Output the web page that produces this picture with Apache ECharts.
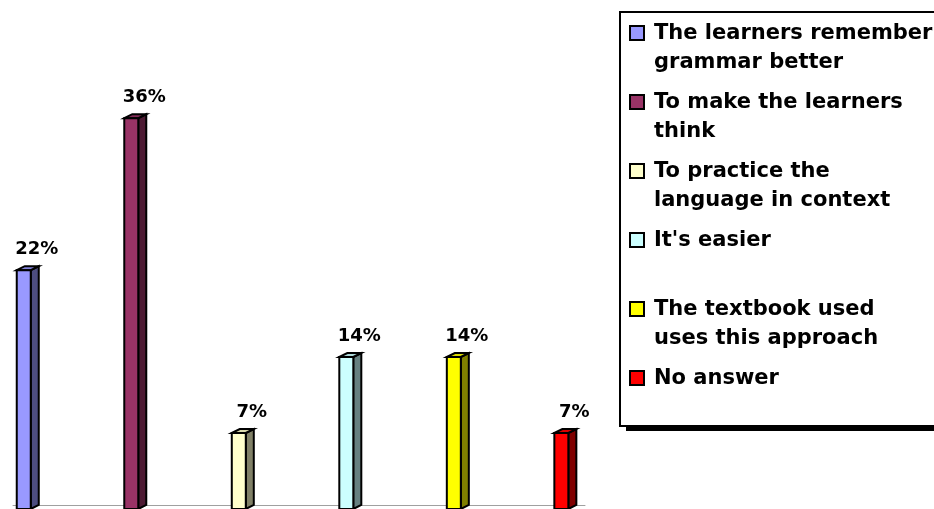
<!DOCTYPE html>
<html>
<head>
<meta charset="utf-8">
<script src="https://cdn.jsdelivr.net/npm/echarts@6/dist/echarts.min.js"></script>
<style>
html,body{margin:0;padding:0;background:#fff;}
#chart{width:934px;height:509px;}
</style>
</head>
<body>
<div id="chart"></div>
<script>
// ---- data ----
const categories = [
  "The learners remember grammar better",
  "To make the learners think",
  "To practice the language in context",
  "It's easier",
  "The textbook used uses this approach",
  "No answer"
];
const legendLines = [
  "The learners remember\ngrammar better",
  "To make the learners\nthink",
  "To practice the\nlanguage in context",
  "It's easier\n ",
  "The textbook used\nuses this approach",
  "No answer\n "
];
const values = [22, 36, 7, 14, 14, 7];
const frontColors = ['#9999FF', '#993366', '#FFFFCC', '#CCFFFF', '#FFFF00', '#FF0000'];
const sideColors  = ['#4D4D80', '#4D1A33', '#808066', '#668080', '#808000', '#800000'];
const topColors   = ['#8282D9', '#822B57', '#D9D9AD', '#ADD9D9', '#D9D900', '#D90000'];

const chart = echarts.init(document.getElementById('chart'), null, {renderer: 'canvas'});

function makeRender(idx) {
  return function (params, api) {
    const x = api.value(0), v = api.value(1);
    const top = api.coord([x, v]);
    const base = api.coord([x, 0]);
    const w = 14, dx = 8, dy = 4;
    const x0 = top[0] - w / 2, x1 = x0 + w;
    const ty = top[1], by = base[1];
    return {
      type: 'group',
      children: [
        {type: 'polygon', shape: {points: [[x1, ty], [x1 + dx, ty - dy], [x1 + dx, by - dy], [x1, by]]},
         style: {fill: sideColors[idx], stroke: '#000', lineWidth: 2, lineJoin: 'miter'}},
        {type: 'polygon', shape: {points: [[x0, ty], [x0 + dx, ty - dy], [x1 + dx, ty - dy], [x1, ty]]},
         style: {fill: topColors[idx], stroke: '#000', lineWidth: 2, lineJoin: 'miter'}},
        {type: 'rect', shape: {x: x0, y: ty, width: w, height: by - ty},
         style: {fill: frontColors[idx], stroke: '#000', lineWidth: 2}},
        {type: 'text', x: top[0] + 13, y: ty - 21,
         style: {text: v + '%', fill: '#000', font: 'bold 18px "DejaVu Sans"', align: 'center', verticalAlign: 'middle'}}
      ]
    };
  };
}

const series = categories.map((name, i) => ({
  type: 'custom',
  name: name,
  itemStyle: {color: frontColors[i]},
  encode: {x: 0, y: 1},
  data: [[i, values[i]]],
  renderItem: makeRender(i),
  clip: false
}));

const legendMap = {};
categories.forEach((c, i) => { legendMap[c] = legendLines[i]; });

chart.setOption({
  animation: false,
  backgroundColor: '#fff',
  grid: {left: 13, right: 349, top: 9.6, bottom: -2, containLabel: false},
  xAxis: {
    type: 'value', min: -0.1, max: 5.22, offset: -4,
    axisLine: {show: true, onZero: false, lineStyle: {color: '#A0A0A0', width: 1}},
    axisTick: {show: false}, axisLabel: {show: false}, splitLine: {show: false}
  },
  yAxis: {type: 'value', min: 0, max: 46, show: false, splitLine: {show: false}},
  graphic: [{
    type: 'rect', z: 1, silent: true,
    shape: {x: 626, y: 18, width: 400, height: 413},
    style: {fill: '#000'}
  }],
  legend: {
    z: 5,
    orient: 'vertical',
    left: 620, top: 12,
    padding: [7, 20, 4, 9],
    itemGap: 11,
    itemWidth: 14, itemHeight: 44,
    icon: 'path://M0,0h14v14h-14Z M0,44',
    selectedMode: false,
    backgroundColor: '#fff',
    borderColor: '#000', borderWidth: 2,
    itemStyle: {borderColor: '#000', borderWidth: 2},
    textStyle: {fontFamily: 'DejaVu Sans', fontWeight: 'bold', fontSize: 21, lineHeight: 29, color: '#000', padding: [0, 0, 0, 5]},
    formatter: n => legendMap[n],
    data: categories
  },
  series: series
});
</script>
</body>
</html>
